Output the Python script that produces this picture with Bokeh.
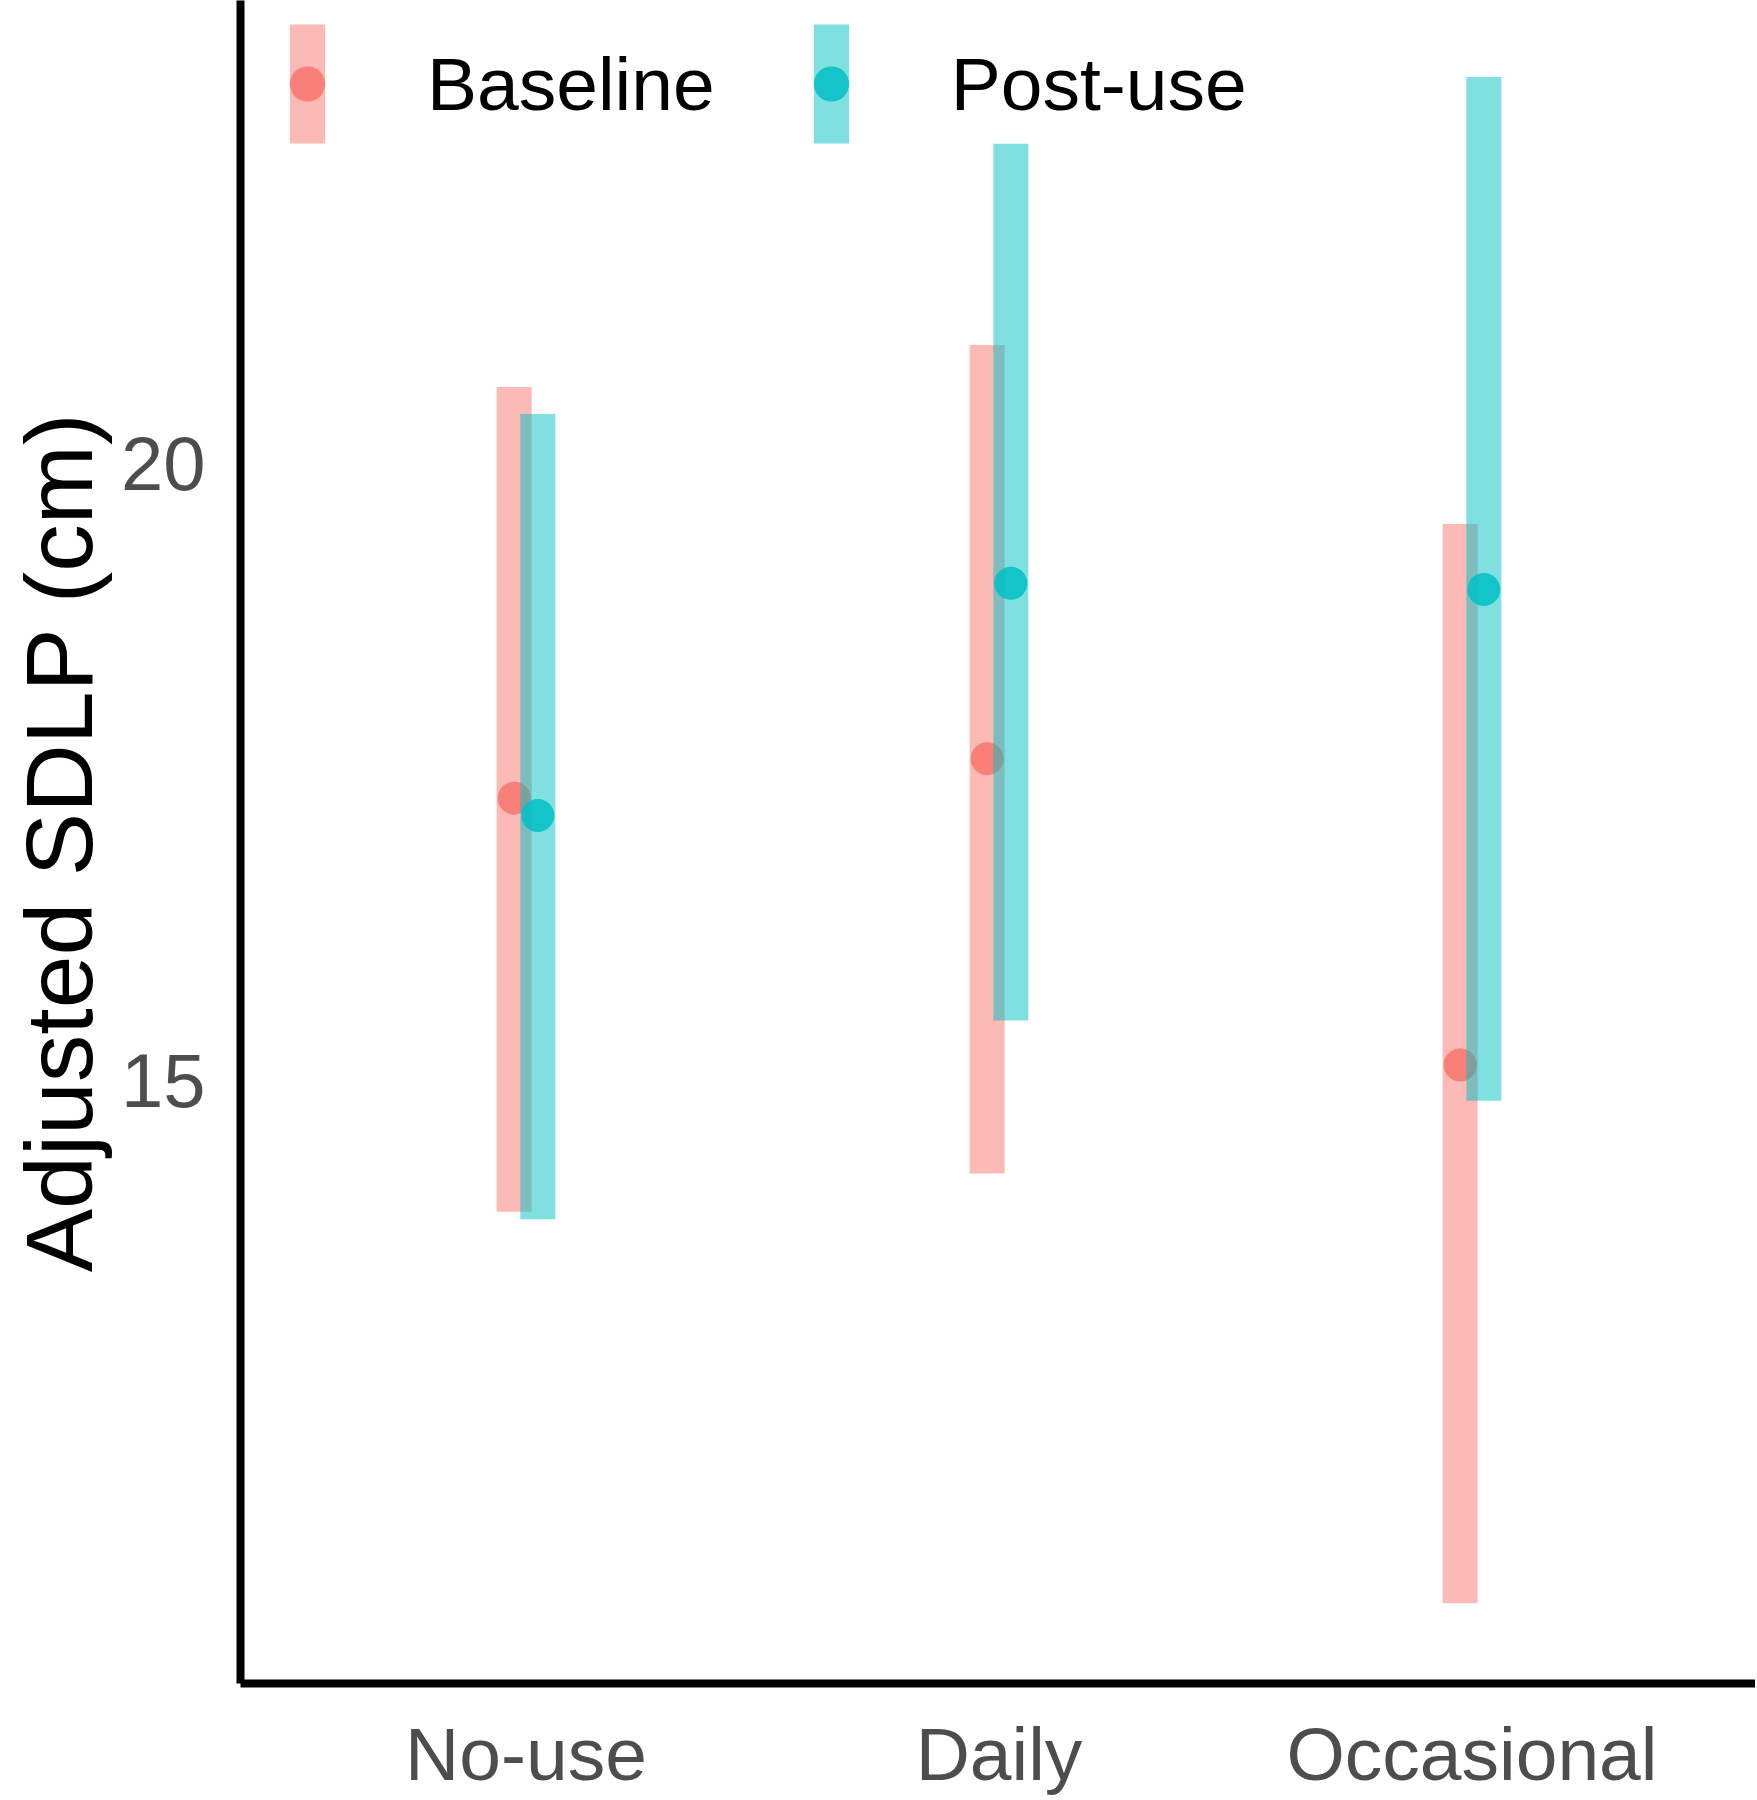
from bokeh.plotting import figure
from bokeh.models import (Range1d, FixedTicker, Legend, LegendItem,
                          ColumnDataSource)
from bokeh.embed import file_html
from bokeh.resources import INLINE

# ---- data ----
categories = ["No-use", "Daily", "Occasional"]
groups = ["Baseline", "Post-use"]

baseline_mean = [17.29, 17.61, 15.13]
baseline_lower = [13.94, 14.25, 10.77]
baseline_upper = [20.62, 20.96, 19.51]

post_mean = [17.15, 19.03, 18.98]
post_lower = [13.88, 15.49, 14.84]
post_upper = [20.40, 22.59, 23.13]

y_ticks = [15, 20]
y_title = "Adjusted SDLP (cm)"

colors = {"Baseline": "#F8766D", "Post-use": "#00BFC4"}
dodge = {"Baseline": -0.025, "Post-use": 0.025}

FONT = "Liberation Sans"

W, H = 1755, 1800
FRAME_LEFT, FRAME_BOTTOM_BORDER = 240, 117
FRAME_H = H - FRAME_BOTTOM_BORDER

p = figure(width=W, height=H, output_backend="svg", toolbar_location=None,
           x_range=Range1d(0.3964, 3.5994), y_range=Range1d(10.121, 23.749),
           min_border_left=FRAME_LEFT, min_border_right=0, min_border_top=0,
           min_border_bottom=FRAME_BOTTOM_BORDER)
p.outline_line_color = None
p.xgrid.visible = False
p.ygrid.visible = False
p.background_fill_color = "white"
p.border_fill_color = "white"

series = {
    "Baseline": (baseline_mean, baseline_lower, baseline_upper),
    "Post-use": (post_mean, post_lower, post_upper),
}

legend_items = []
for g in groups:
    mean, lo, hi = series[g]
    src = ColumnDataSource(dict(
        x=[i + 1 + dodge[g] for i in range(len(categories))],
        cat=categories, mean=mean, lower=lo, upper=hi))
    bar = p.vbar(x="x", bottom="lower", top="upper", width=0.074, source=src,
                 fill_color=colors[g], fill_alpha=0.5, line_color=None)
    pt = p.ellipse(x="x", y="mean", width=33, height=33,
                   width_units="screen", height_units="screen", source=src,
                   fill_color=colors[g], fill_alpha=0.85, line_color=None)
    legend_items.append(LegendItem(label=g, renderers=[bar, pt]))

# legend glyph boxes are inset by 10% when drawn, hence 44 x 149
legend = Legend(items=legend_items, orientation="horizontal",
                location=(45, FRAME_H - 9 - 149),
                glyph_width=44, glyph_height=149, label_standoff=98,
                spacing=94, padding=0, margin=0,
                border_line_color=None, background_fill_alpha=0,
                label_text_font=FONT, label_text_font_size="75px",
                label_text_color="black", label_height=149)
p.add_layout(legend)

# axes
for ax in (p.xaxis[0], p.yaxis[0]):
    ax.axis_line_width = 8
    ax.axis_line_color = "black"
    ax.major_tick_line_color = None
    ax.minor_tick_line_color = None
    ax.major_tick_out = 0
    ax.major_tick_in = 0
    ax.major_label_text_font = FONT
    ax.major_label_text_color = "#4D4D4D"

p.xaxis.ticker = FixedTicker(ticks=[i + 1 for i in range(len(categories))])
p.xaxis.major_label_overrides = {i + 1: c for i, c in enumerate(categories)}
p.xaxis.major_label_text_font_size = "75px"
p.xaxis.major_label_standoff = 28

p.yaxis.ticker = FixedTicker(ticks=y_ticks)
p.yaxis.major_label_text_font_size = "76px"
p.yaxis.major_label_standoff = 35
p.yaxis.axis_label = y_title
p.yaxis.axis_label_text_font = FONT
p.yaxis.axis_label_text_font_size = "95px"
p.yaxis.axis_label_text_font_style = "normal"
p.yaxis.axis_label_text_color = "black"
p.yaxis.axis_label_standoff = 6

open("out.html", "w").write(file_html(p, INLINE))
